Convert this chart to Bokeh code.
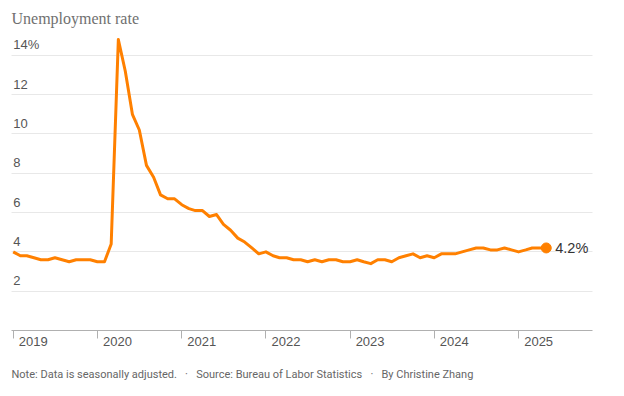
import pandas as pd
from bokeh.plotting import figure
from bokeh.models import (Range1d, FixedTicker, Grid, LabelSet, ColumnDataSource, Title,
                          DatetimeAxis)
from bokeh.embed import file_html
from bokeh.resources import INLINE
from bokeh.core.properties import value

# ---- data ----
start_month = "2019-01"
rates = [
    4.0, 3.8, 3.8, 3.7, 3.6, 3.6, 3.7, 3.6, 3.5, 3.6, 3.6, 3.6,   # 2019
    3.5, 3.5, 4.4, 14.8, 13.2, 11.0, 10.2, 8.4, 7.8, 6.9, 6.7, 6.7,  # 2020
    6.4, 6.2, 6.1, 6.1, 5.8, 5.9, 5.4, 5.1, 4.7, 4.5, 4.2, 3.9,   # 2021
    4.0, 3.8, 3.7, 3.7, 3.6, 3.6, 3.5, 3.6, 3.5, 3.6, 3.6, 3.5,   # 2022
    3.5, 3.6, 3.5, 3.4, 3.6, 3.6, 3.5, 3.7, 3.8, 3.9, 3.7, 3.8,   # 2023
    3.7, 3.9, 3.9, 3.9, 4.0, 4.1, 4.2, 4.2, 4.1, 4.1, 4.2, 4.1,   # 2024
    4.0, 4.1, 4.2, 4.2, 4.2,                                      # 2025
]
y_ticks = [2, 4, 6, 8, 10, 12, 14]
y_tick_labels = ["2", "4", "6", "8", "10", "12", "14%"]
years = [2019, 2020, 2021, 2022, 2023, 2024, 2025]
title_text = "Unemployment rate"
note_text = ("Note: Data is seasonally adjusted.\u00a0\u00a0\u00a0\u00b7\u00a0\u00a0\u00a0"
             "Source: Bureau of Labor Statistics\u00a0\u00a0\u00a0\u00b7\u00a0\u00a0\u00a0"
             "By Christine Zhang")

ORANGE = "#ff8000"
SANS = "'Liberation Sans', Arial, sans-serif"
NOTE_FONT = "Roboto, sans-serif"

dates = pd.date_range(start_month, periods=len(rates), freq="MS")
year_starts = [pd.Timestamp(f"{y}-01-01") for y in years]
label_shift = pd.Timedelta(days=87)   # year labels sit just right of their tick


def ms(ts):
    return ts.timestamp() * 1000.0


x0 = pd.Timestamp("2019-01-01") - pd.Timedelta(days=7.4)
x1 = x0 + pd.Timedelta(days=2520)

p = figure(
    frame_width=581, frame_height=297,
    min_border_left=11, min_border_right=24, min_border_top=32, min_border_bottom=59,
    x_axis_type="datetime", y_axis_location=None,
    x_range=Range1d(ms(x0), ms(x1)), y_range=Range1d(0, 15.11),
    output_backend="svg", toolbar_location=None,
)
p.outline_line_color = None
p.background_fill_color = "white"
p.border_fill_color = "white"
p.xgrid.visible = False

# title
p.title.text = title_text
p.title.align = "left"
p.title.text_font = "'Liberation Serif', serif"
p.title.text_font_size = "16px"
p.title.text_font_style = "normal"
p.title.text_color = "#707070"
p.title.standoff = 14

# horizontal gridlines
p.add_layout(Grid(dimension=1, ticker=FixedTicker(ticks=y_ticks),
                  grid_line_color="#e8e8e8", grid_line_width=1))

# x axis: line and year ticks
ax = p.xaxis[0]
ax.ticker = FixedTicker(ticks=[ms(t) for t in year_starts])
ax.major_label_overrides = {ms(t): "" for t in year_starts}
ax.major_label_text_font_size = "0px"
ax.major_label_standoff = 0
ax.axis_line_color = "#b0b0b0"
ax.axis_line_width = 1.2
ax.major_tick_line_color = "#b0b0b0"
ax.major_tick_in = 0
ax.major_tick_out = 8
ax.minor_tick_line_color = None

# second axis carrying the year labels, to the right of each tick
lab_ticks = [ms(t + label_shift) for t in year_starts]
ax2 = DatetimeAxis(ticker=FixedTicker(ticks=lab_ticks),
                   major_label_overrides={t: str(y) for t, y in zip(lab_ticks, years)})
ax2.axis_line_color = None
ax2.major_tick_line_color = None
ax2.minor_tick_line_color = None
ax2.major_tick_in = 0
ax2.major_tick_out = 0
ax2.major_label_standoff = -2
ax2.major_label_text_font = SANS
ax2.major_label_text_font_size = "13px"
ax2.major_label_text_color = "#555555"
p.add_layout(ax2, "below")

# note below the axis
p.add_layout(Title(text=note_text, align="left", text_font=NOTE_FONT, text_font_size="11px",
                   text_font_style="normal", text_color="#666666", standoff=34), "below")

# y tick labels, above gridlines
tsrc = ColumnDataSource(dict(y=y_ticks, t=y_tick_labels))
p.add_layout(LabelSet(x=1.7, x_units="screen", y="y", text="t", source=tsrc, y_offset=6,
                      text_align="left", text_baseline="alphabetic",
                      text_font=value(SANS), text_font_size="13px", text_color="#555555"))

# line + end point
src = ColumnDataSource(dict(x=dates, y=rates))
p.line("x", "y", source=src, line_color=ORANGE, line_width=3, line_join="round")
end = ColumnDataSource(dict(x=[dates[-1]], y=[rates[-1]], t=[f"{rates[-1]}%"]))
p.scatter("x", "y", source=end, size=10, fill_color=ORANGE, line_color=ORANGE)
p.text("x", "y", text="t", source=end, x_offset=9, text_baseline="middle", text_align="left",
       text_font=value(SANS), text_font_size="14.5px", text_color="#333333")

open("out.html", "w").write(file_html(p, INLINE))
